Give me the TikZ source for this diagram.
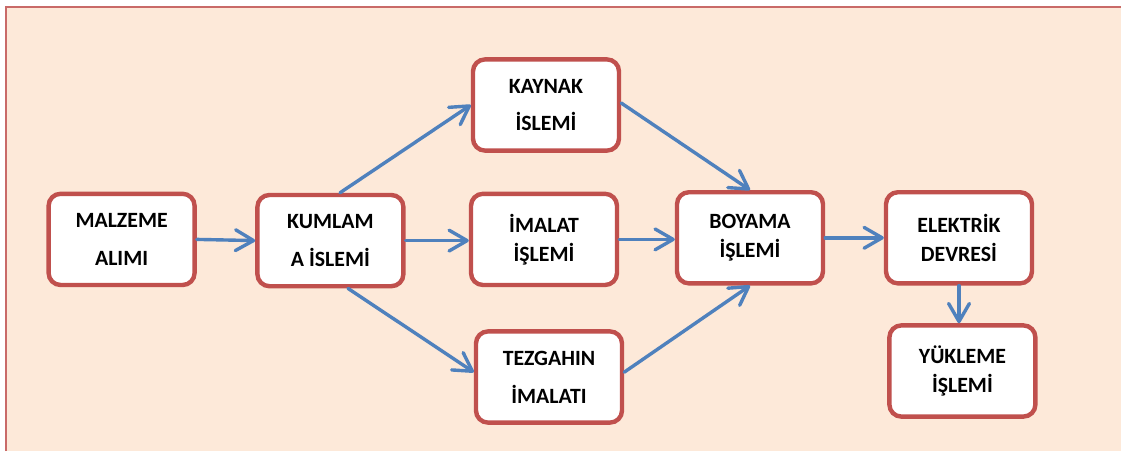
\documentclass[tikz,border=0pt]{standalone}
\usepackage{fontspec}
\setmainfont{Carlito}
\usetikzlibrary{arrows.meta}
\definecolor{pageback}{HTML}{FDE9D9}
\definecolor{boxred}{HTML}{C0504D}
\definecolor{flowblue}{HTML}{4F81BD}
\tikzset{
	stepbox/.style={draw=boxred, fill=white, line width=0.11cm, rounded corners=0.3cm,
		minimum width=3.65cm, minimum height=2.28cm, align=center, inner sep=0pt},
	wide/.style={font=\bfseries\fontsize{15.5}{27}\selectfont},
	tight/.style={font=\bfseries\fontsize{15.5}{20.6}\selectfont},
	flow/.style={draw=flowblue, line width=0.085cm, line cap=round,
		-{Straight Barb[length=0.45cm,width=0.52cm,round]}}
}

\begin{document}
\begin{tikzpicture}
			%%%%% START %%%%%
			
			\useasboundingbox (0, 0) rectangle (28.025, 11.275);
			
			\fill[pageback] (0.15, 0) rectangle (28.025, 11.09);
			\draw[boxred!85, line width=0.05cm] (0.15, 0) |- (28.025, 11.09);
			
			\node[stepbox, wide] (mal) at (3.04, 5.29) {MALZEME\\ALIMI};
			\node[stepbox, wide] (kum) at (8.26, 5.26) {KUMLAM\\A İSLEMİ};
			
			\node[stepbox, wide] (kay) at (13.65, 8.65) {KAYNAK\\İSLEMİ};
			\node[stepbox, tight] (ima) at (13.6, 5.29) {İMALAT\\İŞLEMİ};
			\node[stepbox, wide] (tez) at (13.725, 1.85) {TEZGAHIN\\İMALATI};
			
			\node[stepbox, tight] (boy) at (18.75, 5.33) {BOYAMA\\İŞLEMİ};
			\node[stepbox, tight] (ele) at (23.975, 5.33) {ELEKTRİK\\DEVRESİ};
			\node[stepbox, tight] (yuk) at (24.06, 2.0) {YÜKLEME\\İŞLEMİ};
			
			\draw[flow] (mal.east) -- (kum.west);
			\draw[flow] ([xshift=0.24cm]kum.north) -- (kay.west);
			\draw[flow] (kum.east) -- (kum.east -| ima.west);
			\draw[flow] ([xshift=0.44cm]kum.south) -- ([yshift=0.12cm]tez.west);
			
			\draw[flow] ([yshift=0.05cm]kay.east) -- (boy.north);
			\draw[flow] (ima.east) -- (ima.east -| boy.west);
			\draw[flow] ([yshift=0.12cm]tez.east) -- (boy.south);
			
			\draw[flow] (boy.east) -- (ele.west);
			\draw[flow] (ele.south) -- (ele.south |- yuk.north);
			
			%%%%% END %%%%%
		\end{tikzpicture}
\end{document}
